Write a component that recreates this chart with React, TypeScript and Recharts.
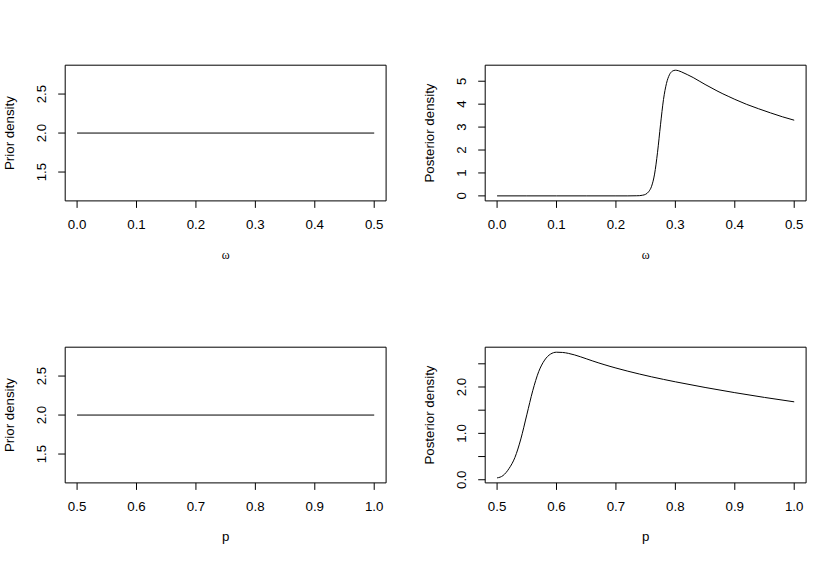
import { Line, LineChart, ReferenceArea, XAxis, YAxis } from 'recharts'

// tick positions / labels
const omegaTicks = [0, 0.1, 0.2, 0.3, 0.4, 0.5]
const pTicks = [0.5, 0.6, 0.7, 0.8, 0.9, 1.0]
const priorTicks = [1.5, 2.0, 2.5]
const postOmegaTicks = [0, 1, 2, 3, 4, 5]
const postPTicks = [0, 0.5, 1, 1.5, 2, 2.5]
const postPLabelled = [0, 1, 2]

// prior densities (uniform)
const priorOmegaX = [0, 0.5]
const priorOmegaY = [2, 2]
const priorPX = [0.5, 1.0]
const priorPY = [2, 2]

// posterior density for omega
const postOmegaX = [
  0, 0.05, 0.1, 0.15, 0.2, 0.22, 0.235, 0.24, 0.245, 0.25, 0.255, 0.26, 0.265, 0.27,
  0.275, 0.28, 0.285, 0.29, 0.295, 0.3, 0.305, 0.31, 0.32, 0.33, 0.34, 0.35, 0.36, 0.37,
  0.38, 0.39, 0.4, 0.42, 0.44, 0.46, 0.48, 0.5,
]
const postOmegaY = [
  0, 0, 0, 0, 0, 0, 0.005, 0.01, 0.03, 0.07, 0.18, 0.42, 0.95, 1.9,
  3.1, 4.2, 4.9, 5.28, 5.44, 5.48, 5.46, 5.41, 5.29, 5.16, 5.01, 4.86, 4.72, 4.58,
  4.45, 4.33, 4.21, 3.99, 3.8, 3.62, 3.45, 3.3,
]

// posterior density for p
const postPX = [
  0.5, 0.51, 0.52, 0.53, 0.54, 0.55, 0.56, 0.57, 0.58, 0.59, 0.6, 0.61, 0.62, 0.63,
  0.64, 0.65, 0.66, 0.67, 0.68, 0.69, 0.7, 0.72, 0.74, 0.76, 0.78, 0.8, 0.85, 0.9,
  0.95, 1.0,
]
const postPY = [
  0.04, 0.09, 0.24, 0.48, 0.88, 1.4, 1.92, 2.33, 2.58, 2.71, 2.75, 2.745, 2.725, 2.693,
  2.653, 2.609, 2.565, 2.523, 2.483, 2.445, 2.409, 2.341, 2.278, 2.219, 2.164, 2.112, 1.99, 1.878,
  1.775, 1.68,
]

const FONT = '"Liberation Sans", Arial, Helvetica, sans-serif'
const SERIF = '"Liberation Serif", "DejaVu Serif", serif'
const FS = 13.3

const W = 419.5
const H = 282
const M = { top: 65.2, right: 33.4, left: 65.2, bottom: 81.1 }
const plotW = W - M.left - M.right
const plotH = H - M.top - M.bottom

const toRows = (xs: number[], ys: number[]) => xs.map((x, i) => ({ x, y: ys[i] }))

type PanelProps = {
  left: number
  top: number
  data: { x: number; y: number }[]
  xDomain: [number, number]
  yDomain: [number, number]
  xTicks: number[]
  yTicks: number[]
  fmtY: (v: number) => string
  xTitle: string
  yTitle: string
  serifX?: boolean
}

function Panel(p: PanelProps) {
  const xTick = (props: any) => (
    <text
      x={props.x}
      y={props.y + 21.5}
      textAnchor="middle"
      fontSize={FS}
      fontFamily={FONT}
      fill="#000"
    >
      {Number(props.payload.value).toFixed(1)}
    </text>
  )
  const yTick = (props: any) => {
    const tx = props.x - 12
    return (
      <text
        x={tx}
        y={props.y}
        transform={`rotate(-90, ${tx}, ${props.y})`}
        textAnchor="middle"
        fontSize={FS}
        fontFamily={FONT}
        fill="#000"
      >
        {p.fmtY(Number(props.payload.value))}
      </text>
    )
  }
  const xTitle = () => (
    <text
      x={M.left + plotW / 2}
      y={M.top + plotH + 58.5}
      textAnchor="middle"
      fontSize={p.serifX ? 12 : FS}
      fontFamily={p.serifX ? SERIF : FONT}
      fill="#000"
    >
      {p.xTitle}
    </text>
  )
  const yTitle = () => {
    const tx = M.left - 51
    const ty = M.top + plotH / 2
    return (
      <text
        x={tx}
        y={ty}
        transform={`rotate(-90, ${tx}, ${ty})`}
        textAnchor="middle"
        fontSize={FS}
        fontFamily={FONT}
        fill="#000"
      >
        {p.yTitle}
      </text>
    )
  }

  return (
    <div style={{ position: 'absolute', left: p.left, top: p.top }}>
      <LineChart
        width={W}
        height={H}
        data={p.data}
        margin={{ top: M.top, right: M.right, left: 0, bottom: 0 }}
      >
        <XAxis
          dataKey="x"
          type="number"
          domain={p.xDomain}
          ticks={p.xTicks}
          allowDataOverflow
          height={M.bottom}
          axisLine={false}
          tickLine={{ stroke: '#000' }}
          tickSize={7}
          tickMargin={0}
          tick={xTick}
          interval={0}
          label={xTitle}
        />
        <YAxis
          type="number"
          domain={p.yDomain}
          ticks={p.yTicks}
          allowDataOverflow
          width={M.left}
          axisLine={false}
          tickLine={{ stroke: '#000' }}
          tickSize={7}
          tickMargin={0}
          tick={yTick}
          interval={0}
          label={yTitle}
        />
        <ReferenceArea
          x1={p.xDomain[0]}
          x2={p.xDomain[1]}
          y1={p.yDomain[0]}
          y2={p.yDomain[1]}
          fill="none"
          stroke="#000"
          strokeWidth={1}
          ifOverflow="visible"
        />
        <Line
          dataKey="y"
          type="monotone"
          stroke="#000"
          strokeWidth={1}
          dot={false}
          activeDot={false}
          isAnimationActive={false}
        />
      </LineChart>
    </div>
  )
}

export default function App() {
  return (
    <div
      style={{
        position: 'absolute',
        left: 0,
        top: 0,
        width: 839,
        height: 564,
        background: '#fff',
      }}
    >
      <Panel
        left={0}
        top={0}
        data={toRows(priorOmegaX, priorOmegaY)}
        xDomain={[-0.02, 0.52]}
        yDomain={[1.13, 2.87]}
        xTicks={omegaTicks}
        yTicks={priorTicks}
        fmtY={(v) => v.toFixed(1)}
        xTitle="ω"
        yTitle="Prior density"
        serifX
      />
      <Panel
        left={W}
        top={0}
        data={toRows(postOmegaX, postOmegaY)}
        xDomain={[-0.02, 0.52]}
        yDomain={[-0.219, 5.699]}
        xTicks={omegaTicks}
        yTicks={postOmegaTicks}
        fmtY={(v) => String(v)}
        xTitle="ω"
        yTitle="Posterior density"
        serifX
      />
      <Panel
        left={0}
        top={H}
        data={toRows(priorPX, priorPY)}
        xDomain={[0.48, 1.02]}
        yDomain={[1.13, 2.87]}
        xTicks={pTicks}
        yTicks={priorTicks}
        fmtY={(v) => v.toFixed(1)}
        xTitle="p"
        yTitle="Prior density"
      />
      <Panel
        left={W}
        top={H}
        data={toRows(postPX, postPY)}
        xDomain={[0.48, 1.02]}
        yDomain={[-0.068, 2.858]}
        xTicks={pTicks}
        yTicks={postPTicks}
        fmtY={(v) => (postPLabelled.includes(v) ? v.toFixed(1) : '')}
        xTitle="p"
        yTitle="Posterior density"
      />
    </div>
  )
}
